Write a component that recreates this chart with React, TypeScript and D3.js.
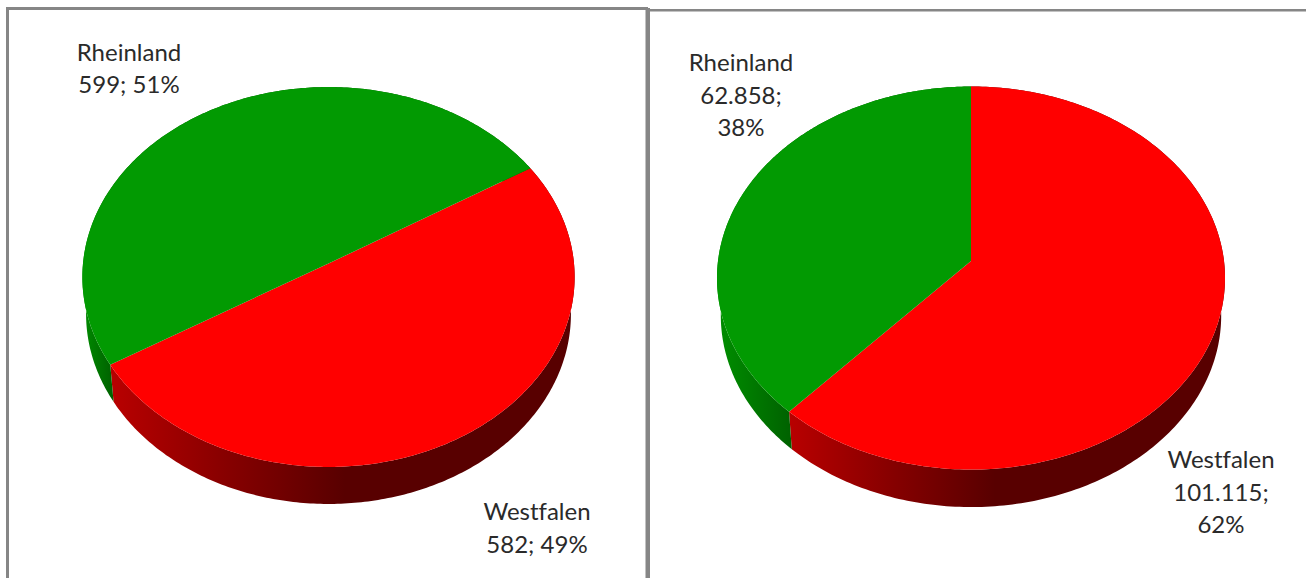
import React from "react";
import * as d3 from "d3";

const WIDTH = 1306;
const HEIGHT = 578;

const categoriesLeft = ["Westfalen", "Rheinland"];
const valuesLeft = [582, 599];
const categoriesRight = ["Westfalen", "Rheinland"];
const valuesRight = [101115, 62858];

const labelsLeftRheinland = ["Rheinland", "599; 51%"];
const labelsLeftWestfalen = ["Westfalen", "582; 49%"];
const labelsRightRheinland = ["Rheinland", "62.858;", "38%"];
const labelsRightWestfalen = ["Westfalen", "101.115;", "62%"];

const TOP_COLORS: Record<string, string> = { Westfalen: "#ff0000", Rheinland: "#029a02" };

type PieGeom = {
  id: string; cx: number; cy: number; rx: number; ry: number; k: number; depth: number; wallScale: number;
  startDeg: number; boundaryDeg: number;
  redFrom: number; redTo: number; greenFrom: number; greenTo: number;
};

const geomLeft: PieGeom = {
  id: "l", cx: 328.5, cy: 263.5, rx: 245.5, ry: 189, k: 0.071, depth: 37, wallScale: 0.985, startDeg: 58.5, boundaryDeg: 238.9,
  redFrom: 112, redTo: 345, greenFrom: 84, greenTo: 114,
};
const geomRight: PieGeom = {
  id: "r", cx: 971, cy: 261, rx: 253, ry: 190, k: 0.089, depth: 37.5, wallScale: 0.985, startDeg: 0, boundaryDeg: 222.2,
  redFrom: 790, redTo: 995, greenFrom: 725, greenTo: 795,
};

function project(g: PieGeom, theta: number, scale = 1, dy = 0): [number, number] {
  const u = Math.sin(theta);
  const v = -Math.cos(theta);
  const s = 1 / (1 - g.k * v);
  const x = d3.scaleLinear().domain([-1, 1]).range([g.cx - g.rx * scale, g.cx + g.rx * scale]);
  const y = d3.scaleLinear().domain([-1, 1]).range([g.cy - g.ry, g.cy + g.ry]);
  return [x(u * s), y(v * s) + dy];
}

const line = d3.line<[number, number]>();

function Pie({ g, categories, values }: { g: PieGeom; categories: string[]; values: number[] }) {
  const arcs = d3.pie<number>().sort(null)(values);
  const rad = Math.PI / 180;
  // the perspective view skews the slice boundary slightly, so pie angles map to seen angles
  const seen = d3
    .scaleLinear()
    .domain([0, arcs[0].endAngle, 2 * Math.PI])
    .range([g.startDeg * rad, g.boundaryDeg * rad, (g.startDeg + 360) * rad]);

  const samples = (a: number, b: number) => d3.range(0, 241).map((i) => seen(a + ((b - a) * i) / 240));

  return (
    <g>
      <defs>
        <linearGradient id={`red-${g.id}`} gradientUnits="userSpaceOnUse" x1={g.redFrom} x2={g.redTo} y1={0} y2={0}>
          <stop offset="0" stopColor="#b80000" />
          <stop offset="0.5" stopColor="#860000" />
          <stop offset="1" stopColor="#580000" />
        </linearGradient>
        <linearGradient id={`green-${g.id}`} gradientUnits="userSpaceOnUse" x1={g.greenFrom} x2={g.greenTo} y1={0} y2={0}>
          <stop offset="0" stopColor="#008a00" />
          <stop offset="1" stopColor="#005f00" />
        </linearGradient>
      </defs>
      {arcs.map((a, i) => {
        const ts = samples(a.startAngle, a.endAngle);
        const top = ts.map((t) => project(g, t));
        const bottom = ts.map((t) => project(g, t, g.wallScale, g.depth)).reverse();
        const isRed = categories[i] === "Westfalen";
        return <path key={i} d={`${line([...top, ...bottom])}Z`} fill={`url(#${isRed ? "red" : "green"}-${g.id})`} />;
      })}
      {arcs.map((a, i) => {
        const ts = samples(a.startAngle, a.endAngle);
        const pts: [number, number][] = [[g.cx, g.cy], ...ts.map((t) => project(g, t))];
        return <path key={i} d={`${line(pts)}Z`} fill={TOP_COLORS[categories[i]]} />;
      })}
    </g>
  );
}

function Label({ x, y, lines, step }: { x: number; y: number; lines: string[]; step: number }) {
  return (
    <text
      textAnchor="middle"
      fontFamily="Lato, 'Open Sans', sans-serif"
      fontSize={24}
      fill="#2a2a2a"
      style={{ fontVariantLigatures: "none" }}
    >
      {lines.map((l, i) => (
        <tspan key={i} x={x} y={y + i * step}>
          {l}
        </tspan>
      ))}
    </text>
  );
}

export default function App() {
  const frame = "#868686";
  return (
    <svg width={WIDTH} height={HEIGHT} style={{ position: "absolute", left: 0, top: 0, background: "#fff" }}>
      <rect x={6} y={7} width={3} height={571} fill={frame} />
      <rect x={6} y={7} width={642} height={3} fill={frame} />
      <rect x={645.5} y={8} width={4.5} height={570} fill={frame} />
      <rect x={650} y={9} width={656} height={2.5} fill={frame} />

      <Pie g={geomLeft} categories={categoriesLeft} values={valuesLeft} />
      <Pie g={geomRight} categories={categoriesRight} values={valuesRight} />

      <Label x={129} y={61} lines={labelsLeftRheinland} step={32} />
      <Label x={537} y={520} lines={labelsLeftWestfalen} step={33} />
      <Label x={741} y={71} lines={labelsRightRheinland} step={32.5} />
      <Label x={1221} y={468} lines={labelsRightWestfalen} step={32.5} />
    </svg>
  );
}
